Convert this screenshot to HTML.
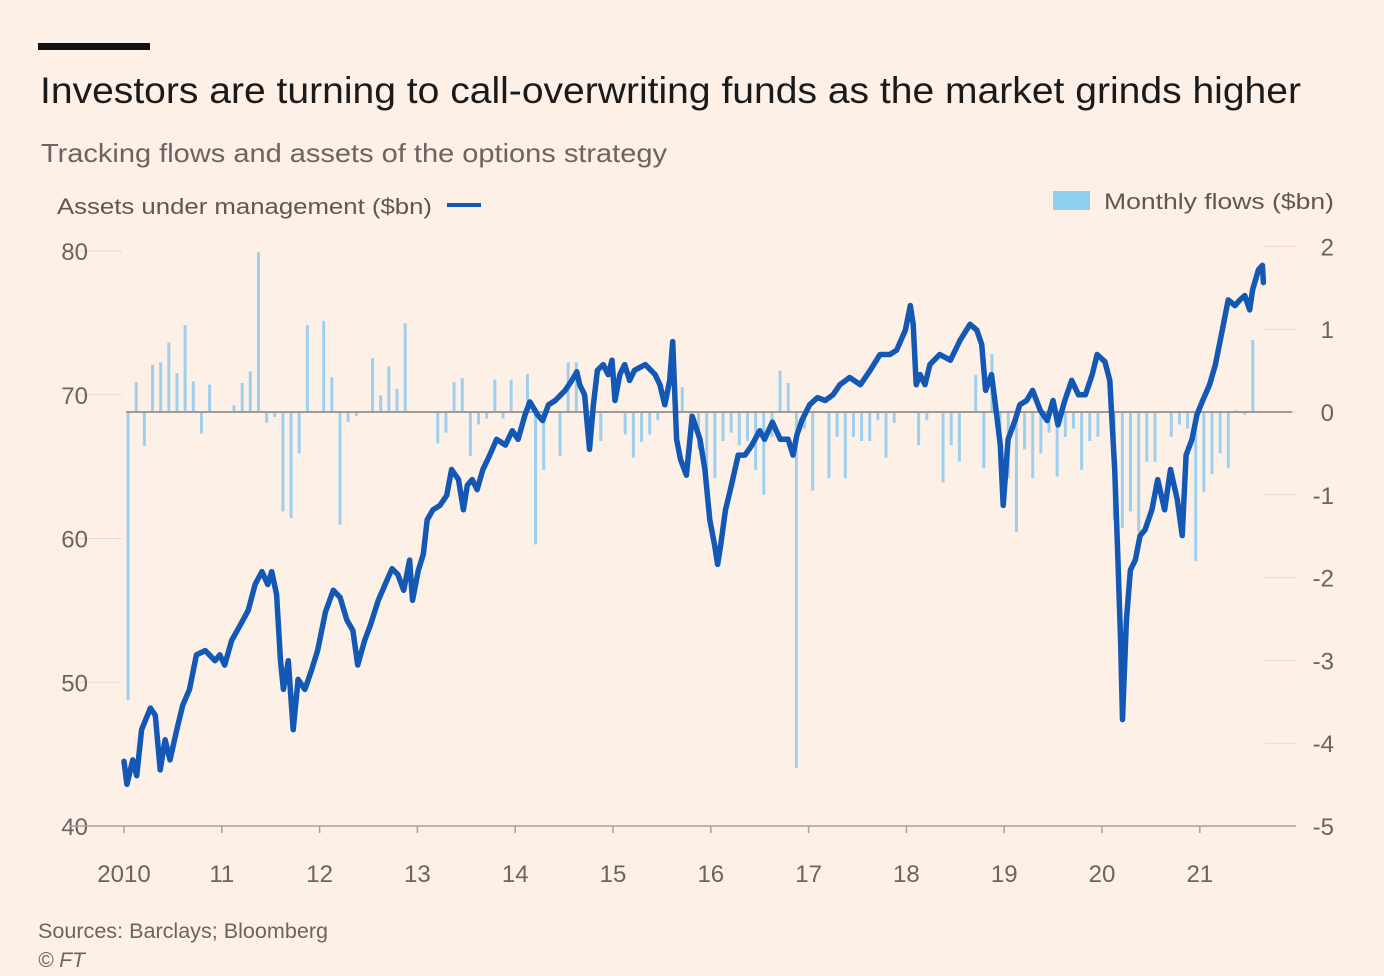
<!DOCTYPE html>
<html><head><meta charset="utf-8"><style>
html,body{margin:0;padding:0;background:#fdf0e7;}
svg{display:block;font-family:"Liberation Sans",sans-serif;}
</style></head><body>
<svg id="chart" width="1384" height="976" viewBox="0 0 1384 976">
<rect x="0" y="0" width="1384" height="976" fill="#fdf0e7"/>
<rect x="38" y="43" width="112" height="7" fill="#111"/>
<text x="40" y="103" font-size="37" fill="#1a1a1a" textLength="1261" lengthAdjust="spacingAndGlyphs">Investors are turning to call-overwriting funds as the market grinds higher</text>
<text x="41" y="162" font-size="26" fill="#6b6460" textLength="626" lengthAdjust="spacingAndGlyphs">Tracking flows and assets of the options strategy</text>
<text x="57" y="214" font-size="22" fill="#5e5853" textLength="375" lengthAdjust="spacingAndGlyphs">Assets under management ($bn)</text>
<line x1="447" y1="205" x2="481" y2="205" stroke="#1458b5" stroke-width="4"/>
<rect x="1053" y="191" width="37" height="19" fill="#8fd0ef"/>
<text x="1104" y="209" font-size="22" fill="#5e5853" textLength="230" lengthAdjust="spacingAndGlyphs">Monthly flows ($bn)</text>
<g id="axes"></g>
<g id="bars"></g>
<line x1="126" y1="412" x2="1292" y2="412" stroke="#a09a96" stroke-width="2"/>
<g id="line"></g>
<text x="38" y="938" font-size="21" fill="#6b6460" textLength="290" lengthAdjust="spacingAndGlyphs">Sources: Barclays; Bloomberg</text>
<text x="38" y="967" font-size="21" fill="#6b6460" font-style="italic">© FT</text>
</svg>
<script>
const leftTicks=[40,50,60,70,80];
const rightTicks=[-5,-4,-3,-2,-1,0,1,2];
const rightTickLabels=["-5","-4","-3","-2","-1","0","1","2"];
const yearTicks=[2010,2011,2012,2013,2014,2015,2016,2017,2018,2019,2020,2021];
const yearLabels=["2010","11","12","13","14","15","16","17","18","19","20","21"];
const aumDates=[2010.00,2010.03,2010.09,2010.13,2010.18,2010.27,2010.32,2010.37,2010.42,2010.47,2010.54,2010.60,2010.67,2010.74,2010.83,2010.93,2010.98,2011.03,2011.10,2011.19,2011.27,2011.34,2011.41,2011.47,2011.51,2011.56,2011.60,2011.63,2011.68,2011.73,2011.78,2011.85,2011.92,2011.98,2012.06,2012.14,2012.21,2012.28,2012.34,2012.39,2012.46,2012.52,2012.60,2012.67,2012.74,2012.80,2012.86,2012.92,2012.95,2013.01,2013.06,2013.10,2013.16,2013.23,2013.30,2013.35,2013.42,2013.47,2013.51,2013.56,2013.61,2013.67,2013.74,2013.81,2013.90,2013.97,2014.03,2014.10,2014.15,2014.23,2014.28,2014.34,2014.41,2014.51,2014.58,2014.63,2014.66,2014.71,2014.76,2014.80,2014.84,2014.90,2014.95,2014.99,2015.02,2015.07,2015.12,2015.17,2015.22,2015.33,2015.43,2015.48,2015.53,2015.58,2015.61,2015.65,2015.69,2015.75,2015.81,2015.89,2015.94,2015.99,2016.04,2016.07,2016.10,2016.15,2016.20,2016.28,2016.35,2016.42,2016.50,2016.55,2016.63,2016.71,2016.79,2016.84,2016.88,2016.93,2017.01,2017.09,2017.17,2017.25,2017.32,2017.42,2017.53,2017.63,2017.73,2017.83,2017.90,2017.99,2018.04,2018.07,2018.10,2018.14,2018.19,2018.24,2018.34,2018.45,2018.55,2018.65,2018.72,2018.77,2018.81,2018.87,2018.91,2018.96,2018.99,2019.04,2019.11,2019.16,2019.23,2019.29,2019.37,2019.44,2019.50,2019.55,2019.62,2019.69,2019.76,2019.83,2019.90,2019.95,2020.03,2020.08,2020.13,2020.16,2020.19,2020.21,2020.25,2020.29,2020.34,2020.39,2020.44,2020.51,2020.57,2020.64,2020.70,2020.77,2020.82,2020.86,2020.92,2020.97,2021.03,2021.10,2021.16,2021.23,2021.29,2021.36,2021.41,2021.46,2021.51,2021.54,2021.60,2021.64,2021.65];
const aumValues=[44.5,42.9,44.6,43.5,46.7,48.2,47.7,43.9,46.0,44.6,46.7,48.4,49.5,51.9,52.2,51.5,51.9,51.2,52.9,54.0,55.0,56.8,57.7,56.8,57.7,56.1,51.5,49.5,51.5,46.7,50.2,49.5,50.9,52.2,54.9,56.4,55.9,54.3,53.6,51.2,52.9,54.0,55.7,56.8,57.9,57.5,56.4,58.5,55.7,57.8,58.9,61.3,62.0,62.3,63.0,64.8,64.1,62.0,63.7,64.1,63.4,64.8,65.8,66.9,66.5,67.5,66.9,68.6,69.5,68.6,68.2,69.3,69.6,70.3,71.0,71.6,70.7,70.0,66.2,69.3,71.7,72.1,71.4,72.4,69.6,71.4,72.1,71.0,71.7,72.1,71.4,70.7,69.3,71.0,73.7,66.9,65.5,64.4,68.5,66.9,64.8,61.3,59.5,58.2,59.5,62.0,63.4,65.8,65.8,66.5,67.5,66.9,68.1,66.9,66.9,65.8,67.2,68.2,69.3,69.8,69.6,70.0,70.7,71.2,70.7,71.7,72.8,72.8,73.1,74.5,76.2,74.9,70.7,71.4,70.7,72.1,72.8,72.4,73.8,74.9,74.5,73.5,70.3,71.4,69.3,66.5,62.3,66.9,68.2,69.3,69.6,70.3,68.9,68.2,69.6,67.9,69.6,71.0,70.0,70.0,71.4,72.8,72.3,71.0,64.8,59.2,52.9,47.4,54.3,57.8,58.5,60.2,60.6,62.0,64.1,62.0,64.8,62.7,60.2,65.8,66.9,68.6,69.6,70.7,72.1,74.5,76.6,76.2,76.6,76.9,75.9,77.3,78.7,79.0,77.8];
const flowValues=[-3.48,0.36,-0.41,0.57,0.60,0.84,0.47,1.05,0.37,-0.26,0.33,0,0,0.08,0.35,0.49,1.93,-0.13,-0.06,-1.2,-1.28,-0.5,1.05,0,1.1,0.42,-1.36,-0.12,-0.05,0,0.65,0.2,0.55,0.28,1.07,0,0,0,-0.38,-0.25,0.36,0.41,-0.53,-0.15,-0.08,0.39,-0.08,0.39,0,0.46,-1.6,-0.7,0,-0.53,0.6,0.6,0,0,-0.35,0,0,-0.27,-0.55,-0.36,-0.27,-0.1,0,0,0.3,-0.5,-0.45,-0.8,-0.8,-0.35,-0.25,-0.4,-0.35,-0.7,-1.0,-0.3,0.5,0.35,-4.3,-0.2,-0.95,0,-0.8,-0.3,-0.8,-0.3,-0.35,-0.35,-0.1,-0.55,-0.13,0,0,-0.4,-0.1,0,-0.85,-0.4,-0.6,0,0.45,-0.68,0.7,-0.6,-0.8,-1.45,-0.45,-0.8,-0.5,-0.25,-0.78,-0.3,-0.2,-0.7,-0.35,-0.3,0,-1.3,-1.4,-1.2,-1.45,-0.6,-0.6,0,-0.3,-0.15,-0.2,-1.8,-0.97,-0.75,-0.5,-0.68,0.02,-0.03,0.87];

const NS="http://www.w3.org/2000/svg";
function xS(t){return 124+(t-2010)*97.8;}
function yL(v){return 826-(v-40)*14.375;}
function yR(v){return 412-v*82.8;}
function mk(tag,attrs,parent){const e=document.createElementNS(NS,tag);for(const k in attrs)e.setAttribute(k,attrs[k]);parent.appendChild(e);return e;}

const axes=document.getElementById('axes');
leftTicks.forEach(v=>{
  if(v>40){
    const l=mk('line',{x1:70,x2:122,y1:yL(v),y2:yL(v),stroke:'#f0d5ca','stroke-width':1},axes);
    
    
  }
  const t=mk('text',{x:88,y:yL(v)+9,'font-size':24,fill:'#6b6460','text-anchor':'end'},axes);
  t.textContent=String(v);
  
  
});
rightTicks.forEach((v,i)=>{
  if(v>-5){
    const l=mk('line',{x1:1265,x2:1296,y1:yR(v),y2:yR(v),stroke:'#f0d5ca','stroke-width':1},axes);
    
    
  }
  const t=mk('text',{x:1334,y:yR(v)+9,'font-size':24,fill:'#6b6460','text-anchor':'end'},axes);
  t.textContent=rightTickLabels[i];
  
  
});
const base=mk('line',{x1:70,x2:1296,y1:826,y2:826,stroke:'#a8a29e','stroke-width':1.5},axes);


yearTicks.forEach((yr,i)=>{
  const x=xS(yr);
  const tk=mk('line',{x1:x,x2:x,y1:826,y2:833,stroke:'#a8a29e','stroke-width':1.5},axes);
  
  
  const t=mk('text',{x:x,y:882,'font-size':24,fill:'#6b6460','text-anchor':'middle'},axes);
  t.textContent=yearLabels[i];
  
  
});

const bars=document.getElementById('bars');
flowValues.forEach((v,m)=>{
  if(v===0)return;
  const x=xS(2010+(m+0.5)/12)-1.5;
  const y0=yR(0),y1=yR(v);
  const r=mk('rect',{x:x,y:Math.min(y0,y1),width:3,height:Math.abs(y1-y0),fill:'#9dd0ee'},bars);
  
  
});

const lineG=document.getElementById('line');
let d='';
aumDates.forEach((t,i)=>{d+=(i?'L':'M')+xS(t).toFixed(1)+' '+yL(aumValues[i]).toFixed(1);});
const p=mk('path',{d:d,fill:'none',stroke:'#1458b5','stroke-width':5.5,'stroke-linejoin':'round','stroke-linecap':'round'},lineG);


</script>
</body></html>
